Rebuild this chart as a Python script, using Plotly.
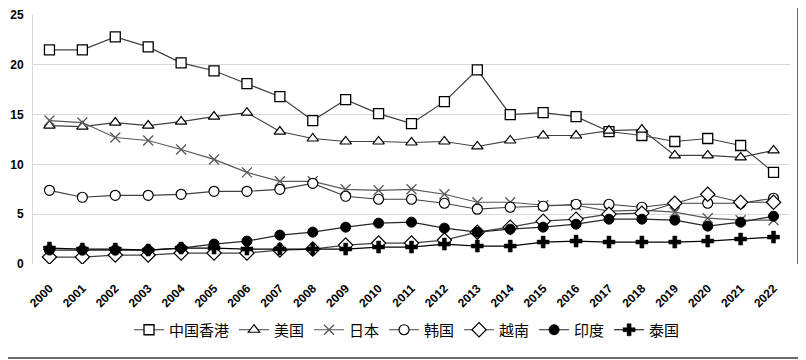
import plotly.graph_objects as go

years = [str(y) for y in range(2000, 2023)]

hong_kong = [21.5, 21.5, 22.8, 21.8, 20.2, 19.4, 18.1, 16.8, 14.4, 16.5, 15.1, 14.1,
             16.3, 19.5, 15.0, 15.2, 14.8, 13.3, 12.9, 12.3, 12.6, 11.9, 9.2]
usa = [13.9, 13.8, 14.2, 13.9, 14.3, 14.8, 15.2, 13.3, 12.6, 12.3, 12.3, 12.2,
       12.3, 11.8, 12.4, 12.9, 12.9, 13.4, 13.5, 10.9, 10.9, 10.7, 11.4]
japan = [14.4, 14.2, 12.7, 12.4, 11.5, 10.5, 9.2, 8.3, 8.3, 7.5, 7.4, 7.5,
         7.0, 6.2, 6.2, 5.9, 5.9, 5.3, 5.4, 5.2, 4.6, 4.4, 4.4]
korea = [7.4, 6.7, 6.9, 6.9, 7.0, 7.3, 7.3, 7.5, 8.1, 6.8, 6.5, 6.5,
         6.1, 5.5, 5.7, 5.8, 6.0, 6.0, 5.7, 6.1, 6.1, 6.1, 6.6]
vietnam = [0.7, 0.7, 0.9, 0.9, 1.1, 1.1, 1.1, 1.4, 1.5, 1.9, 2.1, 2.1,
           2.4, 3.2, 3.7, 4.3, 4.5, 5.0, 5.1, 6.1, 7.0, 6.2, 6.2]
india = [1.4, 1.4, 1.4, 1.4, 1.6, 2.0, 2.3, 2.9, 3.2, 3.7, 4.1, 4.2,
         3.6, 3.2, 3.5, 3.7, 4.0, 4.5, 4.5, 4.4, 3.8, 4.2, 4.8]
thailand = [1.6, 1.5, 1.5, 1.4, 1.6, 1.6, 1.5, 1.5, 1.5, 1.5, 1.7, 1.7,
            2.0, 1.8, 1.8, 2.2, 2.3, 2.2, 2.2, 2.2, 2.3, 2.5, 2.7]

names = ["中国香港", "美国", "日本", "韩国", "越南", "印度", "泰国"]
series = [hong_kong, usa, japan, korea, vietnam, india, thailand]
styles = [
    dict(symbol="square", size=10, color="white", lc="#000000", lw=1.3),
    dict(symbol="triangle-up", size=10, color="white", lc="#000000", lw=1.2),
    dict(symbol="x-thin", size=10, color="#595959", lc="#595959", lw=1.3),
    dict(symbol="circle", size=10, color="white", lc="#000000", lw=1.2),
    dict(symbol="diamond", size=11, color="white", lc="#000000", lw=1.2),
    dict(symbol="circle", size=10, color="#000000", lc="#000000", lw=1),
    dict(symbol="cross", size=10, color="#000000", lc="#000000", lw=0.5),
]
line_colors = ["#404040", "#404040", "#595959", "#404040", "#404040", "#262626", "#000000"]

fig = go.Figure()
for name, vals, st, lcol in zip(names, series, styles, line_colors):
    fig.add_trace(go.Scatter(
        x=years, y=vals, name=name, mode="lines+markers",
        line=dict(color=lcol, width=1.2),
        marker=dict(symbol=st["symbol"], size=st["size"], color=st["color"],
                    line=dict(color=st["lc"], width=st["lw"])),
    ))

# page has an 8px body offset; figure sized to fit the 806x360 window
W, H = 798, 352
L, R, T, B = 25, 16, 7, 96
pw, ph = W - L - R, H - T - B

fig.update_layout(
    width=W, height=H,
    margin=dict(l=L, r=R, t=T, b=B, autoexpand=False),
    paper_bgcolor="white", plot_bgcolor="white",
    showlegend=True,
    legend=dict(orientation="h", x=0.5, xanchor="center", xref="container",
                y=-0.265, yanchor="middle",
                font=dict(family="Noto Sans CJK SC", size=15, color="#000000"),
                itemwidth=30, tracegroupgap=0),
    xaxis=dict(type="category", range=[-0.5, 22.5], tickangle=-45,
               tickmode="array", tickvals=years, ticktext=years,
               showgrid=False, showline=False, zeroline=False,
               ticks="", ticklabelstandoff=14,
               tickfont=dict(family="Liberation Sans", size=12, color="#000000", weight="bold")),
    yaxis=dict(range=[0, 25], dtick=5, showgrid=True, gridcolor="#d9d9d9", gridwidth=1,
               zeroline=False, showline=True, linecolor="#d9d9d9", linewidth=1,
               ticks="", ticklabelstandoff=6,
               tickfont=dict(family="Liberation Sans", size=12, color="#000000", weight="bold")),
    shapes=[
        dict(type="line", xref="paper", yref="paper",
             x0=(790 - L) / pw, x1=(790 - L) / pw, y0=(H - T - 0) / ph - (H - T) / ph, y1=(H - T) / ph,
             line=dict(color="#6b6b6b", width=2)),
        dict(type="line", xref="paper", yref="paper",
             x0=-L / pw, x1=(790 - L) / pw, y0=-(B - 2) / ph, y1=-(B - 2) / ph,
             line=dict(color="#6b6b6b", width=2)),
    ],
)

fig.write_html("out.html")
